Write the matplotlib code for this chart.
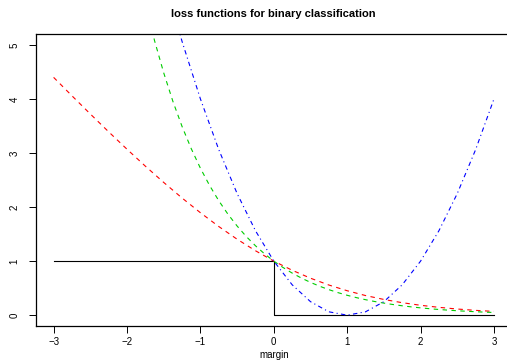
import matplotlib
matplotlib.use("Agg")
import matplotlib.pyplot as plt

plt.rcParams['font.family'] = ['Liberation Sans', 'DejaVu Sans']

# 0-1 loss (step)
margin_01 = [-3, 0, 0, 3]
loss_01 = [1, 1, 0, 0]

# logistic loss (red)
margin_red = [-3, -2.75, -2.5, -2.25, -2, -1.75, -1.5, -1.25, -1, -0.75, -0.5, -0.25,
              0, 0.25, 0.5, 0.75, 1, 1.25, 1.5, 1.75, 2, 2.25, 2.5, 2.75, 3]
loss_red = [4.398, 4.057, 3.721, 3.391, 3.069, 2.756, 2.455, 2.167, 1.895, 1.640, 1.405, 1.192,
            1.000, 0.831, 0.684, 0.558, 0.452, 0.363, 0.291, 0.231, 0.183, 0.145, 0.114, 0.089, 0.070]

# exponential loss (green)
margin_green = [-1.75, -1.625, -1.5, -1.375, -1.25, -1.125, -1, -0.875, -0.75, -0.625, -0.5,
                -0.375, -0.25, -0.125, 0, 0.125, 0.25, 0.375, 0.5, 0.625, 0.75, 0.875, 1,
                1.125, 1.25, 1.375, 1.5, 1.625, 1.75, 1.875, 2, 2.125, 2.25, 2.375, 2.5,
                2.625, 2.75, 2.875, 3]
loss_green = [5.755, 5.078, 4.482, 3.955, 3.490, 3.080, 2.718, 2.399, 2.117, 1.868, 1.649,
              1.455, 1.284, 1.133, 1.000, 0.8825, 0.7788, 0.6873, 0.6065, 0.5353, 0.4724, 0.4169, 0.3679,
              0.3247, 0.2865, 0.2528, 0.2231, 0.1969, 0.1738, 0.1534, 0.1353, 0.1194, 0.1054, 0.0930, 0.0821,
              0.0724, 0.0639, 0.0564, 0.0498]

# squared loss (blue)
margin_blue = [-1.5, -1.25, -1, -0.75, -0.5, -0.25, 0, 0.25, 0.5, 0.75, 1, 1.25, 1.5,
               1.75, 2, 2.25, 2.5, 2.75, 3]
loss_blue = [6.25, 5.0625, 4, 3.0625, 2.25, 1.5625, 1, 0.5625, 0.25, 0.0625, 0, 0.0625, 0.25,
             0.5625, 1, 1.5625, 2.25, 3.0625, 4]

x_ticks = [-3, -2, -1, 0, 1, 2, 3]
y_ticks = [0, 1, 2, 3, 4, 5]

fig = plt.figure(figsize=(5.07, 3.62), dpi=100)
ax = fig.add_axes([36/507, 36/362, (511.6-36)/507, (326-34)/362])

lw = 0.8
ax.plot(margin_01, loss_01, color='black', lw=lw)
ax.plot(margin_red, loss_red, color='red', lw=lw, dashes=(4, 4))
ax.plot(margin_green, loss_green, color='#00CD00', lw=lw, dashes=(4, 4))
ax.plot(margin_blue, loss_blue, color='blue', lw=lw, dashes=(1, 3, 4, 3))

ax.set_xlim(-3.24, 3.24)
ax.set_ylim(-0.2, 5.2)
ax.set_xticks(x_ticks)
ax.set_yticks(y_ticks)
ax.tick_params(axis='both', labelsize=7, length=5, width=0.7, direction='out')
ax.tick_params(axis='x', pad=3)
ax.tick_params(axis='y', pad=7)
for lab in ax.get_yticklabels():
    lab.set_rotation(90)
    lab.set_va('center')
for s in ax.spines.values():
    s.set_linewidth(0.9)

ax.set_title('loss functions for binary classification', fontsize=8, fontweight='bold', pad=12)
ax.set_xlabel('margin', fontsize=7, labelpad=2)

fig.savefig('out.png', dpi=100)
